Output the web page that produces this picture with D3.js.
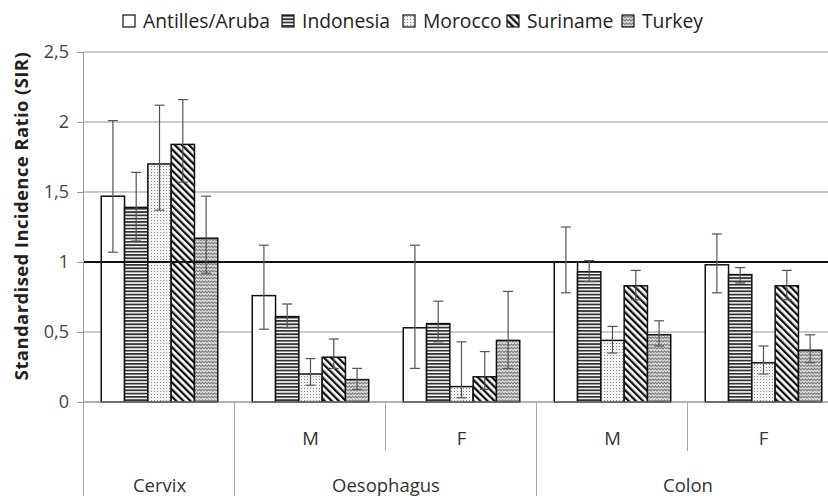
<!DOCTYPE html>
<html>
<head>
<meta charset="utf-8">
<script src="https://cdn.jsdelivr.net/npm/d3@7"></script>
<style>
  body { margin: 0; background: #fff; }
  svg { font-family: "Open Sans", sans-serif; }
</style>
</head>
<body>
<div class="chart"></div>
<script>
// groups along the x axis: [main category, sub label]
const groups = ["Cervix", "Oesophagus M", "Oesophagus F", "Colon M", "Colon F"];
const mainCats = ["Cervix", "Oesophagus", "Colon"];
const subLabels = ["", "M", "F", "M", "F"];
const countries = ["Antilles/Aruba", "Indonesia", "Morocco", "Suriname", "Turkey"];

// SIR per country, in group order
const antilles  = [1.47, 0.76, 0.53, 1.00, 0.98];
const indonesia = [1.39, 0.61, 0.56, 0.93, 0.91];
const morocco   = [1.70, 0.20, 0.11, 0.44, 0.28];
const suriname  = [1.84, 0.32, 0.18, 0.83, 0.83];
const turkey    = [1.17, 0.16, 0.44, 0.48, 0.37];

// 95% CI lower / upper
const antillesLo  = [1.07, 0.52, 0.24, 0.78, 0.78];
const antillesHi  = [2.01, 1.12, 1.12, 1.25, 1.20];
const indonesiaLo = [1.15, 0.53, 0.43, 0.86, 0.85];
const indonesiaHi = [1.64, 0.70, 0.72, 1.01, 0.96];
const moroccoLo   = [1.37, 0.12, 0.03, 0.35, 0.20];
const moroccoHi   = [2.12, 0.31, 0.43, 0.54, 0.40];
const surinameLo  = [1.57, 0.24, 0.09, 0.73, 0.73];
const surinameHi  = [2.16, 0.45, 0.36, 0.94, 0.94];
const turkeyLo    = [0.92, 0.09, 0.24, 0.40, 0.28];
const turkeyHi    = [1.47, 0.24, 0.79, 0.58, 0.48];

const yTicks = [0, 0.5, 1, 1.5, 2, 2.5];

const series = [
  {name: countries[0], v: antilles,  lo: antillesLo,  hi: antillesHi,  fill: "#fff"},
  {name: countries[1], v: indonesia, lo: indonesiaLo, hi: indonesiaHi, fill: "url(#p-hor)"},
  {name: countries[2], v: morocco,   lo: moroccoLo,   hi: moroccoHi,   fill: "url(#p-dot)"},
  {name: countries[3], v: suriname,  lo: surinameLo,  hi: surinameHi,  fill: "url(#p-diag)"},
  {name: countries[4], v: turkey,    lo: turkeyLo,    hi: turkeyHi,    fill: "url(#p-wave)"}
];

const W = 828, H = 496;
const x0 = 84, x1 = 839, yTop = 52, yBot = 402;

const svg = d3.select('.chart').append('svg')
    .attr('width', W)
    .attr('height', H);

// fill patterns
const defs = svg.append('defs');
const hor = defs.append('pattern').attr('id', 'p-hor')
    .attr('patternUnits', 'userSpaceOnUse').attr('width', 4).attr('height', 3.3);
hor.append('rect').attr('width', 4).attr('height', 3.3).attr('fill', '#fff');
hor.append('rect').attr('y', 0).attr('width', 4).attr('height', 1.8).attr('fill', '#333');

const dot = defs.append('pattern').attr('id', 'p-dot')
    .attr('patternUnits', 'userSpaceOnUse').attr('width', 3).attr('height', 3);
dot.append('rect').attr('width', 3).attr('height', 3).attr('fill', '#f4f4f4');
dot.append('rect').attr('x', 1).attr('y', 1).attr('width', 1).attr('height', 1).attr('fill', '#888');

const diag = defs.append('pattern').attr('id', 'p-diag')
    .attr('patternUnits', 'userSpaceOnUse').attr('width', 5).attr('height', 5)
    .attr('patternTransform', 'rotate(-45)');
diag.append('rect').attr('width', 5).attr('height', 5).attr('fill', '#fff');
diag.append('rect').attr('width', 2.3).attr('height', 5).attr('fill', '#111');

const wave = defs.append('pattern').attr('id', 'p-wave')
    .attr('patternUnits', 'userSpaceOnUse').attr('width', 6).attr('height', 3.5);
wave.append('rect').attr('width', 6).attr('height', 3.5).attr('fill', '#ddd');
wave.append('path').attr('d', 'M0,2.5 L1.5,0.8 L3,2.5 L4.5,0.8 L6,2.5')
    .attr('fill', 'none').attr('stroke', '#666').attr('stroke-width', 0.9);

// scales
const xScale = d3.scaleBand().domain(groups).range([x0, x1]);
const xInner = d3.scaleBand().domain(countries)
    .range([0, xScale.bandwidth()]).paddingOuter(0.74);
const yScale = d3.scaleLinear().domain([0, 2.5]).range([yBot, yTop]);

// gridlines
svg.append('g')
    .selectAll('line')
    .data(yTicks)
    .enter().append('line')
    .attr('x1', x0).attr('x2', W)
    .attr('y1', d => yScale(d)).attr('y2', d => yScale(d))
    .attr('stroke', '#999').attr('stroke-width', 1);

// y axis
const yAxis = d3.axisLeft(yScale)
    .tickValues(yTicks)
    .tickSize(7)
    .tickPadding(8)
    .tickFormat(d => String(d).replace('.', ','));

svg.append('g')
    .attr('class', 'axis y-axis')
    .attr('transform', `translate(${x0},0)`)
    .call(yAxis)
    .call(g => g.select('.domain').attr('stroke', '#999').attr('d', `M-0.5,${yTop}V${H}`))
    .call(g => g.selectAll('.tick line').attr('stroke', '#999'))
    .call(g => g.selectAll('.tick text').attr('font-size', 18).attr('fill', '#444')
        .attr('font-family', '"Open Sans", sans-serif'));

// bars
const grp = svg.append('g').selectAll('g')
    .data(series)
    .enter().append('g');

grp.selectAll('rect')
    .data(s => s.v.map((v, i) => ({s: s, g: groups[i], v: v})))
    .enter().append('rect')
    .attr('x', d => xScale(d.g) + xInner(d.s.name))
    .attr('y', d => yScale(d.v))
    .attr('width', xInner.bandwidth())
    .attr('height', d => yBot - yScale(d.v))
    .attr('fill', d => d.s.fill)
    .attr('stroke', '#111')
    .attr('stroke-width', 1.5);

// reference line at SIR = 1
svg.append('line')
    .attr('x1', x0).attr('x2', W)
    .attr('y1', yScale(1)).attr('y2', yScale(1))
    .attr('stroke', '#111').attr('stroke-width', 2.2);

// error bars
const err = svg.append('g').selectAll('g')
    .data(series.flatMap(s => s.v.map((v, i) => ({s: s, g: groups[i], lo: s.lo[i], hi: s.hi[i]}))))
    .enter().append('g')
    .attr('stroke', '#555').attr('stroke-width', 1.2);

const cx = d => xScale(d.g) + xInner(d.s.name) + xInner.bandwidth() / 2;
err.append('line')
    .attr('x1', cx).attr('x2', cx)
    .attr('y1', d => yScale(d.lo)).attr('y2', d => yScale(d.hi));
err.append('line')
    .attr('x1', d => cx(d) - 5).attr('x2', d => cx(d) + 5)
    .attr('y1', d => yScale(d.lo)).attr('y2', d => yScale(d.lo));
err.append('line')
    .attr('x1', d => cx(d) - 5).attr('x2', d => cx(d) + 5)
    .attr('y1', d => yScale(d.hi)).attr('y2', d => yScale(d.hi));

// x axis baseline
svg.append('line')
    .attr('x1', x0).attr('x2', W)
    .attr('y1', yBot).attr('y2', yBot)
    .attr('stroke', '#999');

// multi-level category labels
const mainSpan = {
  "Cervix": ["Cervix", "Cervix"],
  "Oesophagus": ["Oesophagus M", "Oesophagus F"],
  "Colon": ["Colon M", "Colon F"]
};
const axisG = svg.append('g').attr('font-size', 18.5).attr('fill', '#333');

// dividers between main categories
axisG.selectAll('line.main')
    .data(mainCats)
    .enter().append('line')
    .attr('class', 'main')
    .attr('x1', d => xScale(mainSpan[d][0]) - 0.5).attr('x2', d => xScale(mainSpan[d][0]) - 0.5)
    .attr('y1', yBot).attr('y2', H)
    .attr('stroke', '#aaa');

// dividers between sub labels
axisG.selectAll('line.sub')
    .data(groups.filter((g, i) => subLabels[i] === 'F'))
    .enter().append('line')
    .attr('class', 'sub')
    .attr('x1', d => xScale(d) - 0.5).attr('x2', d => xScale(d) - 0.5)
    .attr('y1', yBot).attr('y2', 451)
    .attr('stroke', '#aaa');

axisG.selectAll('text.sub')
    .data(groups.filter((g, i) => subLabels[i] !== ''))
    .enter().append('text')
    .attr('class', 'sub')
    .attr('x', d => xScale(d) + xScale.bandwidth() / 2)
    .attr('y', 445)
    .attr('text-anchor', 'middle')
    .text(d => subLabels[groups.indexOf(d)]);

axisG.selectAll('text.main')
    .data(mainCats)
    .enter().append('text')
    .attr('class', 'main')
    .attr('x', d => (xScale(mainSpan[d][0]) + xScale(mainSpan[d][1]) + xScale.bandwidth()) / 2)
    .attr('y', 492)
    .attr('text-anchor', 'middle')
    .text(d => d);

// y axis title
svg.append('text')
    .attr('transform', 'translate(28,216) rotate(-90)')
    .attr('text-anchor', 'middle')
    .attr('font-size', 18.5)
    .attr('letter-spacing', 0.4)
    .attr('font-weight', 'bold')
    .attr('fill', '#222')
    .text('Standardised Incidence Ratio (SIR)');

// legend
const legendX = [123, 282, 403, 507, 622];
const legend = svg.selectAll('.legend')
    .data(series)
    .enter().append('g')
    .attr('class', 'legend')
    .attr('transform', (d, i) => `translate(${legendX[i]},15)`);

legend.append('rect')
    .attr('width', 12).attr('height', 12)
    .attr('fill', d => d.fill)
    .attr('stroke', '#111').attr('stroke-width', 1.2);

legend.append('text')
    .attr('x', 20).attr('y', 13)
    .attr('font-size', 19.3)
    .attr('fill', '#222')
    .text(d => d.name);
</script>
</body>
</html>
